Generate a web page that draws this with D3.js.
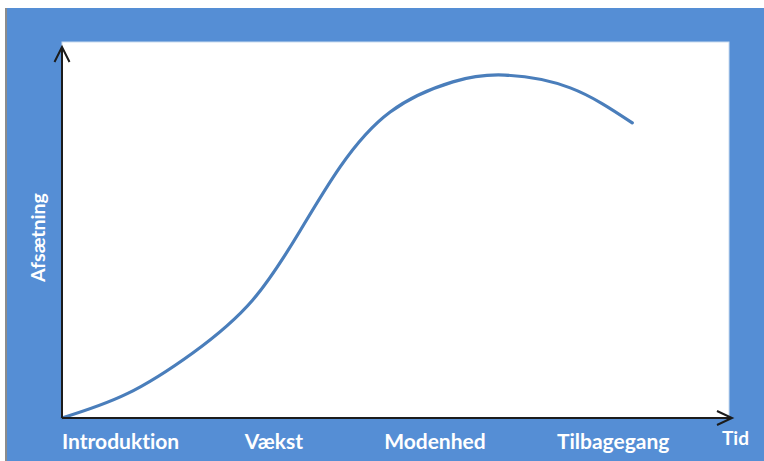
<!DOCTYPE html>
<html>
<head>
<meta charset="utf-8">
<script src="https://cdn.jsdelivr.net/npm/d3@7"></script>
<style>
  html, body { margin: 0; padding: 0; background: #ffffff; }
  svg { display: block; }
  text { font-family: Lato, "Open Sans", sans-serif; font-weight: 700; fill: #ffffff; font-variant-ligatures: none; }
</style>
</head>
<body>
<svg id="chart" width="764" height="461"></svg>
<script>
// Product life cycle: sales over time
const time  = [0, 9.7, 19.6, 28.6, 35.7, 41.7, 49.2, 58.6, 66.4, 76.2, 85.5];
const sales = [0, 6.4, 17.3, 31.4, 49.8, 66.8, 81.4, 89.4, 91.2, 87.8, 78.5];

// Life-cycle stages and the time at which each one begins
const stages     = ["Introduktion", "Vækst", "Modenhed", "Tilbagegang"];
const stageStart = [0, 27.4, 48.3, 74.2];

const xTitle = "Tid";
const yTitle = "Afsætning";

const svg = d3.select("#chart");
const W = 764, H = 461;
const plot = { left: 62, right: 729, top: 42, bottom: 418 };

const x = d3.scaleLinear().domain([0, 100]).range([plot.left, plot.right]);
const y = d3.scaleLinear().domain([0, 100]).range([plot.bottom, plot.top]);

// frame: blue panel with a thin grey edge on the left
svg.append("rect").attr("x", 5).attr("y", 8).attr("width", W - 5).attr("height", H - 8).attr("fill", "#558ed5");
svg.append("rect").attr("x", 5).attr("y", 8).attr("width", 2).attr("height", H - 8).attr("fill", "#8c8c8c");

// white plotting area
svg.append("rect")
  .attr("x", plot.left).attr("y", plot.top)
  .attr("width", plot.right - plot.left).attr("height", plot.bottom - plot.top)
  .attr("fill", "#ffffff").attr("stroke", "#c9dbf0").attr("stroke-width", 1);

// sales curve
const line = d3.line()
  .x((d, i) => x(time[i]))
  .y(d => y(d))
  .curve(d3.curveNatural);

svg.append("path")
  .datum(sales)
  .attr("d", line)
  .attr("fill", "none")
  .attr("stroke", "#4a7ebb")
  .attr("stroke-width", 3.2)
  .attr("stroke-linecap", "round");

// axes with open arrow heads
const axisColor = "#1c1c1c";
const x0 = x(0), y0 = y(0);
const xEnd = plot.right + 3, yEnd = plot.top + 5;

svg.append("line").attr("x1", x0).attr("y1", y0).attr("x2", xEnd).attr("y2", y0)
  .attr("stroke", axisColor).attr("stroke-width", 2);
svg.append("line").attr("x1", x0).attr("y1", y0).attr("x2", x0).attr("y2", yEnd)
  .attr("stroke", axisColor).attr("stroke-width", 2);

svg.append("path")
  .attr("d", `M${xEnd - 15},${y0 - 7}L${xEnd},${y0}L${xEnd - 15},${y0 + 7}`)
  .attr("fill", "none").attr("stroke", axisColor).attr("stroke-width", 2);
svg.append("path")
  .attr("d", `M${x0 - 7.5},${yEnd + 15}L${x0},${yEnd}L${x0 + 7.5},${yEnd + 15}`)
  .attr("fill", "none").attr("stroke", axisColor).attr("stroke-width", 2);

// stage labels under the time axis
svg.selectAll("text.stage")
  .data(stages)
  .join("text")
  .attr("class", "stage")
  .attr("x", (d, i) => x(stageStart[i]))
  .attr("y", 449)
  .attr("font-size", 21)
  .text(d => d);

// axis titles
svg.append("text")
  .attr("x", 722).attr("y", 445)
  .attr("font-size", 19)
  .text(xTitle);

svg.append("text")
  .attr("transform", "translate(45,282) rotate(-90)")
  .attr("font-size", 19.5)
  .text(yTitle);
</script>
</body>
</html>
